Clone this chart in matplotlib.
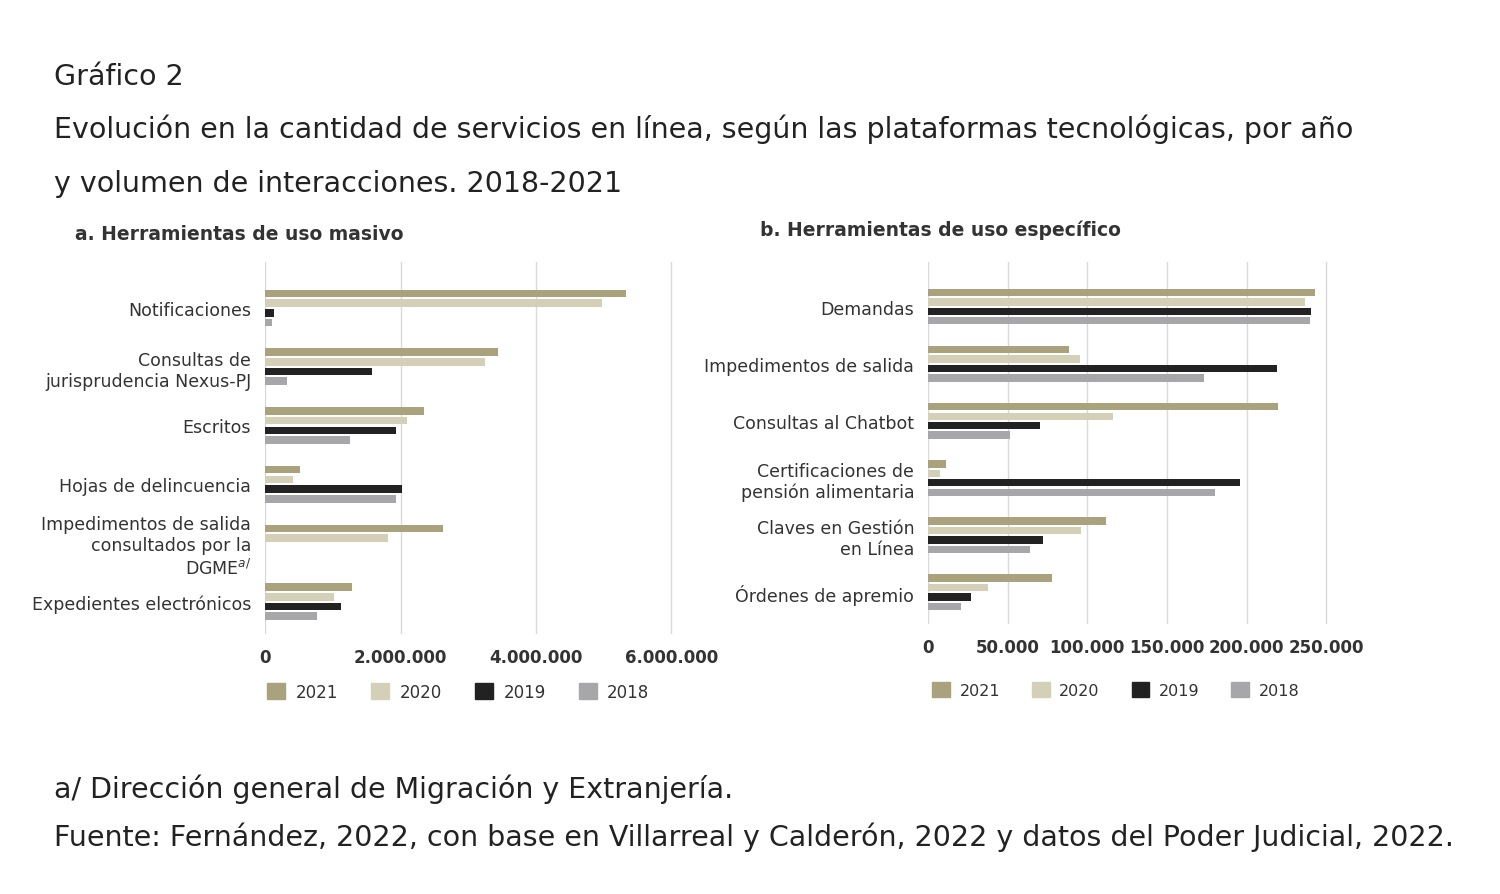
import numpy as np
import matplotlib.pyplot as plt
from matplotlib.ticker import FuncFormatter
from matplotlib.patches import Patch

years = ["2021", "2020", "2019", "2018"]
colors = ["#a9a27c", "#d4d0b7", "#222222", "#a7a7aa"]

cats_a = ["Notificaciones", "Consultas de\njurisprudencia Nexus-PJ", "Escritos",
          "Hojas de delincuencia", "Impedimentos de salida\nconsultados por la\nDGME$^{a/}$",
          "Expedientes electrónicos"]
vals_a = {
    "2021": [5330000, 3440000, 2350000, 520000, 2630000, 1280000],
    "2020": [4970000, 3250000, 2100000, 410000, 1820000, 1020000],
    "2019": [130000, 1580000, 1930000, 2020000, 0, 1120000],
    "2018": [100000, 320000, 1250000, 1930000, 0, 770000],
}

cats_b = ["Demandas", "Impedimentos de salida", "Consultas al Chatbot",
          "Certificaciones de\npensión alimentaria", "Claves en Gestión\nen Línea",
          "Órdenes de apremio"]
vals_b = {
    "2021": [243000, 88600, 220000, 11300, 112000, 78000],
    "2020": [237000, 95500, 116000, 7500, 96000, 37700],
    "2019": [240500, 219000, 70000, 196000, 72000, 27000],
    "2018": [240000, 173000, 51500, 180000, 64000, 20700],
}

narrow = ["Liberation Sans Narrow", "DejaVu Sans"]
fmt = FuncFormatter(lambda v, p: f"{int(v):,}".replace(",", "."))

fig = plt.figure(figsize=(15, 8.95), dpi=100)


def panel(rect, cats, vals, xmax, ticks, title, title_x, title_y):
    ax = fig.add_axes(rect)
    n = len(cats)
    y = np.arange(n)
    h = 0.165
    for i, yr in enumerate(years):
        ax.barh(y - 1.5 * h + i * h, vals[yr], height=h * 0.78, color=colors[i], zorder=3)
    ax.set_yticks(y)
    ax.set_yticklabels(cats, fontsize=12.5, color="#333333", linespacing=1.2, family=narrow)
    ax.set_ylim(n - 0.45, -0.78)
    ax.set_xlim(0, xmax)
    ax.set_xticks(ticks)
    ax.xaxis.set_major_formatter(fmt)
    for lab in ax.get_xticklabels():
        lab.set_fontweight("bold")
        lab.set_fontsize(12)
        lab.set_family(narrow)
        lab.set_color("#333333")
    ax.tick_params(length=0, pad=10)
    ax.grid(axis="x", color="#d9d9d9", lw=1, zorder=0)
    for s in ax.spines.values():
        s.set_visible(False)
    fig.text(title_x, title_y, title, fontsize=13.5, fontweight="bold", color="#333333", family=narrow)
    return ax


panel([0.1767, 0.2905, 0.289, 0.4155], cats_a, vals_a, 6400000,
      [0, 2000000, 4000000, 6000000], "a. Herramientas de uso masivo", 0.05, 0.732)
panel([0.6187, 0.302, 0.2813, 0.404], cats_b, vals_b, 265000,
      [0, 50000, 100000, 150000, 200000, 250000], "b. Herramientas de uso específico", 0.507, 0.736)

handles = [Patch(color=c) for c in colors]
fig.legend(handles, years, loc="center left", bbox_to_anchor=(0.168, 0.226), ncol=4,
           frameon=False, fontsize=12, handlelength=1.1, handleheight=1.1,
           columnspacing=2.0, handletextpad=0.6, labelcolor="#333333", prop={"family": narrow, "size": 12})
fig.legend(handles, years, loc="center left", bbox_to_anchor=(0.612, 0.228), ncol=4,
           frameon=False, handlelength=1.1, handleheight=1.1,
           columnspacing=2.0, handletextpad=0.6, labelcolor="#333333", prop={"family": narrow, "size": 11.5})

big = 20.5
fig.text(0.036, 0.905, "Gráfico 2", fontsize=big, color="#222222")
fig.text(0.036, 0.846, "Evolución en la cantidad de servicios en línea, según las plataformas tecnológicas, por año",
         fontsize=big, color="#222222")
fig.text(0.036, 0.786, "y volumen de interacciones. 2018-2021", fontsize=big, color="#222222")
fig.text(0.036, 0.108, "a/ Dirección general de Migración y Extranjería.", fontsize=big, color="#222222")
fig.text(0.036, 0.055, "Fuente: Fernández, 2022, con base en Villarreal y Calderón, 2022 y datos del Poder Judicial, 2022.",
         fontsize=big, color="#222222")

fig.savefig("out.png", dpi=100, facecolor="white")
